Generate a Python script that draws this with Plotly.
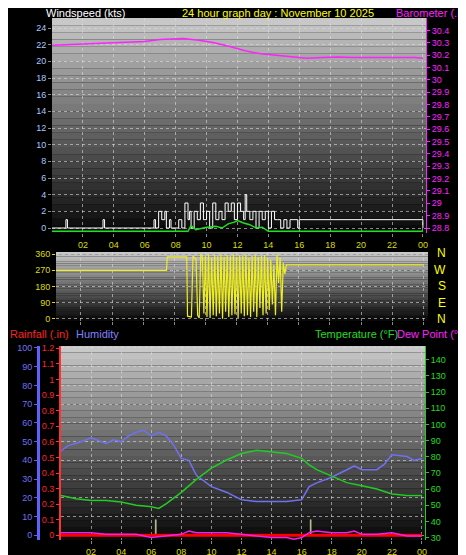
import plotly.graph_objects as go

# ---- data (hours since midnight) ----
baro_t = [0, 1, 2, 3, 4, 5, 6, 7, 7.5, 8.5, 9.5, 10.5, 11.5, 12.5, 13.5, 14.5, 15.5, 16.5, 17.5, 18.5, 19.5, 20.5, 21.5, 22.5, 23.5, 24]
baro_v = [30.28, 30.285, 30.29, 30.29, 30.295, 30.30, 30.31, 30.325, 30.33, 30.335, 30.32, 30.30, 30.27, 30.235, 30.21, 30.20, 30.185, 30.175, 30.18, 30.185, 30.18, 30.18, 30.185, 30.185, 30.18, 30.175]

gust_t = [0, 0.9, 1.0, 3.3, 3.4, 6.6, 6.7, 6.9, 7.1, 7.3, 7.4, 7.6, 7.7, 8.2, 8.4, 8.6, 8.8, 8.9, 9.0, 9.2, 9.4, 9.6, 9.8, 10.0, 10.2, 10.4, 10.6, 10.8,
          11.0, 11.2, 11.4, 11.6, 11.8, 12.0, 12.2, 12.4, 12.5, 12.6, 12.8, 13.0, 13.2, 13.4, 13.6, 13.8, 14.0, 14.2, 14.4, 14.6, 14.8, 15.0, 15.2, 15.4, 15.9, 16.0, 24]
gust_v = [0, 1, 0, 1, 0, 1, 0, 2, 1, 2, 0, 1, 0, 1, 0, 3, 1, 2, 0, 2, 1, 3, 1, 2, 0, 3, 1, 2,
          1, 3, 2, 3, 1, 3, 2, 1, 4, 2, 1, 2, 0, 2, 1, 2, 0, 2, 1, 1, 0, 1, 0, 1, 0, 1, 0]
avg_t = [0, 8.8, 9.0, 9.3, 10.0, 10.6, 11.0, 11.4, 11.8, 12.0, 12.4, 12.8, 13.2, 13.6, 14.0, 24]
avg_v = [-0.4, -0.4, 0.3, -0.2, 0.1, 0.2, 0.0, 0.5, 0.7, 0.9, 0.6, 0.4, 0.0, 0.1, -0.4, -0.4]

dir_t = [0, 7.5, 7.55, 8.8, 8.85, 9.1, 9.2, 9.4, 9.5, 9.6, 9.7, 9.8, 9.9, 10.0, 10.1, 10.2, 10.3, 10.4, 10.5, 10.6, 10.7, 10.8, 10.9,
         11.0, 11.1, 11.2, 11.3, 11.4, 11.5, 11.6, 11.7, 11.8, 11.9, 12.0, 12.1, 12.2, 12.3, 12.4, 12.5, 12.6, 12.7, 12.8, 12.9,
         13.0, 13.1, 13.2, 13.3, 13.4, 13.5, 13.6, 13.7, 13.8, 13.9, 14.0, 14.1, 14.2, 14.3, 14.4, 14.5, 14.6, 14.7, 14.8, 14.9, 15.0, 15.1, 15.2, 15.3, 15.4, 24]
dir_v = [270, 270, 345, 345, 15, 10, 350, 330, 20, 5, 355, 350, 30, 350, 10, 360, 5, 340, 20, 355, 15, 350, 30,
         360, 0, 345, 40, 355, 10, 350, 20, 360, 25, 345, 5, 355, 30, 350, 15, 360, 20, 340, 10,
         350, 40, 355, 10, 345, 60, 350, 20, 355, 30, 340, 50, 330, 80, 300, 20, 360, 200, 340, 40, 310, 250, 300, 300, 300, 300]

temp_t = [0, 1, 2, 3, 4, 5, 6, 6.5, 7, 8, 9, 10, 11, 12, 13, 14, 15, 16, 16.5, 17, 18, 19, 20, 21, 22, 23, 24]
temp_v = [56, 54, 53, 53, 52, 50, 49, 48, 51, 58, 66, 73, 78, 82, 84, 83, 82, 79, 75, 72, 68, 64, 62, 60, 57, 56, 56]

hum_t = [0, 0.5, 1, 2, 3, 3.5, 4, 4.5, 5, 5.5, 6, 6.5, 7, 7.5, 8, 8.5, 9, 10, 11, 12, 13, 14, 15, 16, 16.5, 17, 18, 19, 19.5, 20, 21, 21.5, 22, 23, 23.5, 24]
hum_v = [45, 48, 49, 52, 49, 51, 50, 53, 55, 56, 53, 55, 53, 48, 41, 40, 32, 26, 23, 19, 18, 18, 18, 19, 26, 28, 31, 35, 37, 35, 35, 38, 43, 42, 40, 41]

dew_t = [0, 1, 2, 3, 4, 5, 6, 7, 8, 8.5, 9, 10, 11, 12, 13, 14, 15, 15.5, 16, 16.5, 17, 18, 19, 19.5, 20, 21, 22, 23, 24]
dew_v = [33, 33, 33, 32, 32, 32, 30, 31, 32, 34, 33, 33, 33, 32, 31, 30, 30, 29, 30, 33, 34, 33, 33, 34, 32, 32, 33, 31, 31]

rain_t = [0, 24]
rain_v = [0, 0]
mark_t = [6.3, 16.6]
mark_v = [0.1, 0.1]

hour_ticks = [2, 4, 6, 8, 10, 12, 14, 16, 18, 20, 22, 24]
hour_labels = ["02", "04", "06", "08", "10", "12", "14", "16", "18", "20", "22", "00"]

W, H = 466, 555
def px(x): return x / W
def py(y): return 1 - y / H

FONT = "Liberation Sans"
fig = go.Figure()

fig.add_trace(go.Scatter(x=gust_t, y=gust_v, mode="lines", line=dict(color="white", width=1, shape="hv"), xaxis="x", yaxis="y"))
fig.add_trace(go.Scatter(x=avg_t, y=avg_v, mode="lines", line=dict(color="#22dd22", width=1.5), xaxis="x", yaxis="y"))
fig.add_trace(go.Scatter(x=baro_t, y=baro_v, mode="lines", line=dict(color="#ff22ff", width=1.5), xaxis="x", yaxis="y2"))
fig.add_trace(go.Scatter(x=dir_t, y=dir_v, mode="lines", line=dict(color="#eeee22", width=1.2), xaxis="x2", yaxis="y3"))
fig.add_trace(go.Scatter(x=hum_t, y=hum_v, mode="lines", line=dict(color="#7070ee", width=1.5), xaxis="x3", yaxis="y4"))
fig.add_trace(go.Scatter(x=rain_t, y=rain_v, mode="lines", line=dict(color="#ff0000", width=3), xaxis="x3", yaxis="y5"))
fig.add_trace(go.Bar(x=mark_t, y=mark_v, width=0.06, marker_color="#c8b400", xaxis="x3", yaxis="y5"))
fig.add_trace(go.Scatter(x=temp_t, y=temp_v, mode="lines", line=dict(color="#22cc22", width=1.5), xaxis="x3", yaxis="y6"))
fig.add_trace(go.Scatter(x=dew_t, y=dew_v, mode="lines", line=dict(color="#ee22ee", width=1.5), xaxis="x3", yaxis="y6"))

# gradient backgrounds for each panel
shapes = []
panels = [(44, 418, 10, 225), (48, 420, 244, 313), (53, 417, 338, 532)]
n = 30
for x0, x1, y0, y1 in panels:
    for i in range(n):
        c = int(200 - 190 * i / (n - 1))
        shapes.append(dict(type="rect", xref="paper", yref="paper", layer="below", line_width=0,
                           x0=px(x0), x1=px(x1), y0=py(y0 + (y1 - y0) * i / n), y1=py(y0 + (y1 - y0) * (i + 1) / n),
                           fillcolor=f"rgb({c},{c},{c})"))

grid = dict(showgrid=True, gridcolor="rgba(220,220,220,0.6)", griddash="dot", gridwidth=1, zeroline=False, automargin=False)
xcommon = dict(tickvals=hour_ticks, ticktext=hour_labels, tickfont=dict(color="#dddd00", size=9, family=FONT),
               ticks="outside", ticklen=3, tickcolor="#888", **grid)

fig.update_layout(
    width=W, height=H, margin=dict(l=0, r=0, t=0, b=0, autoexpand=False),
    paper_bgcolor="black", plot_bgcolor="rgba(0,0,0,0)", showlegend=False, shapes=shapes,
    font=dict(family=FONT, size=9),
    xaxis=dict(domain=[px(44), px(418)], range=[0, 24.2], anchor="y", **xcommon),
    yaxis=dict(domain=[py(225), py(10)], range=[-0.6, 25.2], tickvals=list(range(0, 25, 2)),
               tickfont=dict(color="#a8c8ff", size=9, family=FONT), ticks="outside", ticklen=3, tickcolor="#888", **grid),
    yaxis2=dict(overlaying="y", side="right", anchor="x", range=[28.76, 30.5],
                tickvals=[28.8 + 0.1 * i for i in range(17)],
                ticktext=["28.8", "28.9", "29", "29.1", "29.2", "29.3", "29.4", "29.5", "29.6", "29.7", "29.8", "29.9", "30", "30.1", "30.2", "30.3", "30.4"],
                tickfont=dict(color="#ff22ff", size=9, family=FONT), ticks="outside", ticklen=3, tickcolor="#ff22ff",
                showline=True, linecolor="#ff22ff", showgrid=False, automargin=False),
    xaxis2=dict(domain=[px(48), px(420)], range=[0.4, 24.3], anchor="y3", showticklabels=False, **{k: v for k, v in xcommon.items() if k not in ("tickfont",)}),
    yaxis3=dict(domain=[py(313), py(244)], range=[-12, 372], tickvals=[0, 90, 180, 270, 360], anchor="x2",
                tickfont=dict(color="#dddd00", size=9, family=FONT), ticks="outside", ticklen=3, tickcolor="#dddd00", **grid),
    xaxis3=dict(domain=[px(53), px(417)], range=[0, 24.2], anchor="y4", **xcommon),
    yaxis4=dict(domain=[py(532), py(338)], range=[-2.5, 101], tickvals=list(range(0, 101, 10)), anchor="free", position=px(30),
                tickfont=dict(color="#7070ee", size=9, family=FONT), showline=True, linecolor="#6060ff", linewidth=3,
                ticks="outside", ticklen=3, tickcolor="#6060ff", **grid),
    yaxis5=dict(overlaying="y4", anchor="free", position=px(52), range=[-0.03, 1.215],
                tickvals=[0.1 * i for i in range(13)],
                ticktext=["0", "0.1", "0.2", "0.3", "0.4", "0.5", "0.6", "0.7", "0.8", "0.9", "1", "1.1", "1.2"],
                tickfont=dict(color="#ff2222", size=9, family=FONT), showline=True, linecolor="#ff3333", linewidth=2,
                ticks="outside", ticklen=3, tickcolor="#ff3333", showgrid=False, zeroline=False, automargin=False),
    yaxis6=dict(overlaying="y4", side="right", anchor="x3", range=[28.5, 148.5], tickvals=list(range(30, 141, 10)),
                tickfont=dict(color="#22dd22", size=9, family=FONT), showline=True, linecolor="#22cc22",
                ticks="outside", ticklen=3, tickcolor="#22cc22", showgrid=False, zeroline=False, automargin=False),
)

ann = [
    (36, 5, "Windspeed (kts)", "white", "left"),
    (172, 5, "24 hour graph day : November 10 2025", "#ffff00", "left"),
    (463, 5, "Barometer (.in)", "#ff22ff", "right"),
    (0, 326, "Rainfall (.in)", "#ff2222", "left"),
    (66, 326, "Humidity", "#8080ff", "left"),
    (392, 326, "Temperature (°F)", "#22dd22", "right"),
    (463, 326, "Dew Point (°F)", "#ff22ff", "right"),
]
for x, y, t, c, a in ann:
    fig.add_annotation(x=px(x), y=py(y), xref="paper", yref="paper", text=t, showarrow=False,
                       xanchor=a, yanchor="middle", font=dict(color=c, size=11, family=FONT))
for i, t in enumerate(["N", "W", "S", "E", "N"]):
    fig.add_annotation(x=px(440), y=py(245 + i * 16.5), xref="paper", yref="paper", text=t, showarrow=False,
                       font=dict(color="#ffff00", size=12, family=FONT))

fig.write_html("out.html")
